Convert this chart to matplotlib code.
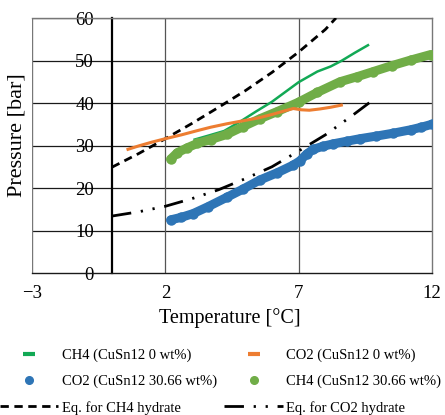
import matplotlib
matplotlib.use("Agg")
import matplotlib.pyplot as plt
from matplotlib.lines import Line2D

plt.rcParams['font.family'] = ['Liberation Serif', 'DejaVu Serif']

# ---- data ----
ch4_0_T = [3.1, 3.6, 4.2, 4.8, 5.4, 6.0, 6.5, 7.0, 7.7, 8.2, 8.6, 9.1, 9.6]
ch4_0_P = [31.4, 32.3, 33.4, 35.6, 38.0, 40.3, 42.6, 44.9, 47.4, 48.6, 49.9, 51.8, 53.6]

co2_0_T = [0.6, 1.0, 1.5, 2.0, 2.6, 3.2, 3.7, 4.3, 4.9, 5.5, 6.0, 6.5, 6.8, 7.1, 7.4, 7.8, 8.2, 8.6]
co2_0_P = [29.1, 29.9, 30.8, 31.6, 32.5, 33.5, 34.3, 35.1, 35.8, 36.5, 37.3, 38.2, 38.7, 38.4, 38.3, 38.6, 39.0, 39.5]

co2_30_T = [2.2, 2.6, 3.05, 3.6, 4.3, 4.9, 5.55, 6.2, 6.8, 7.05, 7.3, 7.55, 7.9, 8.3, 8.8, 9.3, 9.9, 10.55, 11.2, 11.6, 12.0]
co2_30_P = [12.5, 13.1, 14.0, 15.6, 17.8, 19.7, 21.9, 23.6, 25.4, 26.4, 28.0, 29.1, 29.8, 30.4, 31.0, 31.6, 32.2, 32.9, 33.7, 34.3, 35.0]

ch4_30_T = [2.2, 2.45, 2.8, 3.2, 3.7, 4.3, 4.9, 5.55, 6.2, 7.0, 7.7, 8.55, 9.2, 9.8, 10.5, 11.2, 11.95]
ch4_30_P = [26.8, 28.3, 29.4, 30.5, 31.4, 32.6, 34.4, 36.3, 38.0, 40.2, 42.5, 45.0, 46.2, 47.4, 48.8, 50.1, 51.4]

eq_ch4_T = [0.0, 1.0, 2.0, 3.0, 4.0, 5.0, 6.0, 7.0, 8.0, 8.4]
eq_ch4_P = [24.9, 28.1, 31.6, 35.2, 39.0, 42.9, 47.2, 52.0, 57.3, 60.0]

eq_co2_T = [0.0, 1.0, 2.0, 3.0, 4.0, 5.0, 6.0, 7.0, 8.0, 9.0, 9.7]
eq_co2_P = [13.4, 14.4, 15.7, 17.5, 19.6, 22.2, 25.0, 28.7, 32.5, 37.0, 40.3]

x_ticks = [-3, 2, 7, 12]
y_ticks = [0, 10, 20, 30, 40, 50, 60]

labels = ["CH4 (CuSn12 0 wt%)", "CO2 (CuSn12 0 wt%)",
          "CO2 (CuSn12 30.66 wt%)", "CH4 (CuSn12 30.66 wt%)",
          "Eq. for CH4 hydrate", "Eq. for CO2 hydrate"]

c_dkgreen = '#12A955'
c_orange = '#ED7D31'
c_blue = '#2E75B6'
c_ltgreen = '#70AD47'

W, H = 445, 415
fig = plt.figure(figsize=(W / 100, H / 100), dpi=100)
ax = fig.add_axes([32 / W, 1 - 273 / H, 400 / W, 255 / H])
ax.set_xlim(-3, 12)
ax.set_ylim(0, 60)

# grid / frame
for y in y_ticks[1:]:
    ax.axhline(y, color='#1a1a1a', lw=0.9, zorder=1)
for x in [2, 7]:
    ax.axvline(x, color='#555555', lw=0.9, zorder=1)
ax.axvline(-3, color='#777777', lw=1.0, zorder=1)
for s in ['top', 'right']:
    ax.spines[s].set_color('#777777')
    ax.spines[s].set_linewidth(1.0)
ax.spines['bottom'].set_color('#1a1a1a')
ax.spines['bottom'].set_linewidth(1.0)
ax.spines['left'].set_position(('data', 0))
ax.spines['left'].set_color('black')
ax.spines['left'].set_linewidth(1.6)

ax.set_xticks(x_ticks)
ax.set_yticks(y_ticks)
ax.tick_params(axis='both', length=0, labelsize=13.5)
ax.tick_params(axis='x', pad=9)
ax.tick_params(axis='y', pad=13)

# series
ax.plot(eq_ch4_T, eq_ch4_P, color='black', lw=2.0, ls=(0, (3, 2)), zorder=3)
ax.plot(eq_co2_T, eq_co2_P, color='black', lw=2.0,
        ls=(0, (7, 3.5, 0.8, 3.5, 0.8, 3.5)), zorder=3)
ax.plot(co2_30_T, co2_30_P, color=c_blue, lw=6.5, marker='o', ms=7.5, mew=0,
        solid_capstyle='round', solid_joinstyle='round', zorder=4)
ax.plot(ch4_0_T, ch4_0_P, color=c_dkgreen, lw=1.8, zorder=4)
ax.plot(ch4_30_T, ch4_30_P, color=c_ltgreen, lw=6.5, marker='o', ms=7.5, mew=0,
        solid_capstyle='round', solid_joinstyle='round', zorder=4.5)
ax.plot(co2_0_T, co2_0_P, color=c_orange, lw=2.2, zorder=5)

# legend
handles = [
    Line2D([], [], ls='none', marker='_', ms=9, mew=3, color=c_dkgreen),
    Line2D([], [], ls='none', marker='o', ms=5.5, color=c_blue),
    Line2D([], [], color='black', lw=2.0, ls=(0, (3, 2))),
    Line2D([], [], ls='none', marker='_', ms=9, mew=3, color=c_orange),
    Line2D([], [], ls='none', marker='o', ms=5.5, color=c_ltgreen),
    Line2D([], [], color='black', lw=2.0, ls=(0, (7, 3.5, 0.8, 3.5, 0.8, 3.5))),
]
leg_labels = [labels[0], labels[2], labels[4], labels[1], labels[3], labels[5]]
fig.legend(handles, leg_labels, ncol=2, loc='upper left',
           bbox_to_anchor=(0.0, 1 - 349 / H), frameon=False,
           fontsize=10.5, handlelength=4.0, handletextpad=0.25,
           columnspacing=0.5, labelspacing=0.85, borderpad=0, borderaxespad=0)

fig.text(230 / W, 1 - 318 / H, "Temperature [°C]", ha='center', va='center',
         fontsize=14.5)
fig.text(17 / W, 1 - 135 / H, "Pressure [bar]", ha='center', va='center',
         rotation=90, fontsize=16)

fig.savefig("out.png", dpi=100)
